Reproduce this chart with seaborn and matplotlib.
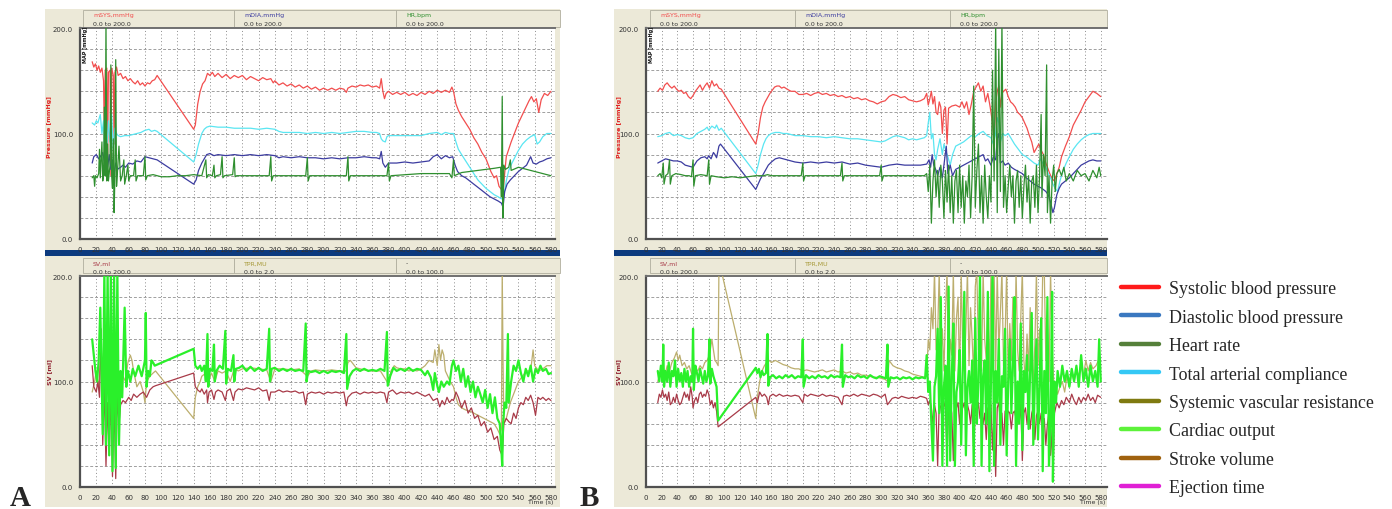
import matplotlib
matplotlib.use("Agg")
import matplotlib.pyplot as plt
import seaborn as sns
import pandas as pd
from matplotlib.patches import Rectangle
from matplotlib.lines import Line2D
from matplotlib.ticker import MultipleLocator

# ---------------- DATA (time s, value) ----------------
A_SYS = [(15,168),(17,163),(19,166),(21,160),(23,164),(25,158),(27,162),(29,150),(30,95),(31,160),(33,162),(34,70),(35,158),(37,160),(38,60),(39,162),(41,155),(42,90),(43,158),(45,163),(47,155),(50,157),(53,152),(56,154),(59,150),(62,152),(65,149),(68,147),(71,150),(74,146),(77,148),(80,145),(83,148),(86,147),(89,150),(92,151),(95,155),
         (140,104),(142,108),(145,128),(148,140),(151,147),(154,150),(157,157),(160,155),(163,158),(166,154),(170,157),(175,153),(180,156),(185,152),(190,155),(195,153),(200,155),(205,151),(210,154),(215,152),(220,150),(225,153),(230,151),(235,152),(238,148),(240,150),(245,146),(250,148),(255,145),(260,147),(265,144),(270,146),(275,143),(280,145),(285,142),(290,144),(295,141),(300,143),(305,141),(310,143),(315,141),(320,143),(325,142),(328,139),(330,143),(335,145),(340,144),(345,146),(350,145),(355,146),(360,144),(365,145),(369,143),(371,152),(373,140),(375,133),(377,138),(380,140),(385,137),(390,139),(395,137),(400,139),(405,136),(410,138),(415,136),(420,139),(425,137),(430,140),(435,138),(440,141),(445,139),(450,141),(455,139),(458,144),(460,140),(463,128),(466,122),(470,116),(475,110),(480,104),(485,96),(490,90),(495,82),(500,76),(503,70),(506,64),(510,58),(513,60),(516,50),(519,47),(521,44),(523,62),(525,78),(528,85),(531,92),(535,100),(540,110),(545,118),(550,126),(553,131),(556,135),(559,130),(562,133),(565,120),(568,132),(572,138),(576,136),(580,140)]
A_DIA = [(15,72),(17,78),(20,80),(23,76),(26,79),(28,82),(30,74),(32,85),(34,68),(36,80),(38,66),(40,75),(42,62),(44,72),(46,66),(50,68),(53,70),(56,68),(60,72),(65,71),(70,74),(75,73),(80,78),(85,77),(90,76),(95,75),
         (140,52),(143,56),(146,65),(150,72),(153,76),(156,80),(160,81),(165,79),(170,80),(180,79),(190,80),(200,79),(210,80),(220,79),(230,80),(240,79),(245,77),(250,78),(260,77),(270,78),(280,77),(290,77),(300,76),(310,77),(320,76),(330,77),(340,77),(350,78),(360,77),(365,77),(369,76),(371,83),(373,72),(376,68),(380,72),(390,72),(400,73),(410,72),(420,73),(430,74),(435,78),(440,80),(445,76),(450,79),(455,77),(459,78),(462,70),(465,64),(470,60),(475,58),(480,55),(485,52),(490,49),(495,46),(500,43),(505,40),(510,38),(515,36),(519,34),(521,30),(523,45),(526,52),(530,56),(535,60),(540,64),(545,67),(550,70),(555,78),(558,72),(562,71),(566,73),(570,74),(575,76),(580,77)]
A_HR = [(15,58),(17,60),(18,50),(19,60),(21,58),(23,62),(24,85),(25,58),(27,92),(28,55),(29,60),(30,125),(31,60),(32,205),(33,55),(34,90),(35,55),(37,70),(38,165),(39,60),(40,48),(41,95),(42,25),(43,60),(44,170),(45,50),(46,62),(48,88),(50,55),(52,60),(54,75),(55,52),(57,60),(59,70),(60,55),(62,60),(66,60),(68,75),(69,55),(71,60),(78,60),(80,78),(81,56),(83,60),(90,61),(100,59),(110,59),(120,60),(130,60),(140,61),(150,60),(155,75),(156,58),(158,61),(163,60),(165,70),(166,58),(168,60),(173,61),(175,78),(176,58),(178,60),(188,61),(190,77),(191,59),(193,60),(233,60),(235,78),(236,55),(238,60),(278,60),(280,77),(281,55),(283,60),(328,60),(330,78),(331,55),(333,60),(378,60),(380,72),(381,55),(383,60),(420,62),(440,62),(455,62),(458,58),(460,75),(461,60),(470,63),(480,64),(490,65),(500,66),(510,67),(518,68),(519,40),(520,135),(521,20),(522,70),(524,66),(528,68),(530,75),(531,65),(540,68),(550,66),(560,64),(570,62),(580,60)]
A_TAC = [(15,110),(18,108),(20,112),(22,110),(25,118),(27,100),(29,112),(30,88),(31,120),(33,85),(35,112),(37,92),(39,118),(41,85),(43,105),(45,100),(47,98),(50,97),(55,98),(60,98),(65,99),(70,100),(75,101),(80,103),(85,104),(88,102),(92,103),(95,102),
         (140,73),(143,80),(146,90),(150,100),(153,104),(156,106),(160,107),(170,106),(180,106),(190,105),(200,105),(210,105),(220,104),(230,105),(240,104),(245,102),(250,101),(260,101),(270,101),(280,100),(290,101),(300,100),(310,101),(320,100),(330,101),(340,102),(350,102),(360,101),(365,101),(369,100),(371,95),(373,93),(376,92),(378,97),(380,98),(390,98),(400,98),(410,98),(420,98),(430,100),(440,101),(445,99),(450,101),(455,100),(460,100),(463,92),(466,85),(470,80),(475,74),(480,68),(485,62),(490,56),(495,52),(500,48),(505,45),(510,42),(515,40),(519,38),(522,40),(525,55),(528,65),(532,72),(536,78),(540,84),(545,90),(550,94),(555,97),(560,99),(563,90),(566,92),(570,97),(575,100),(580,100)]

A_CO = [(15,140),(17,125),(19,110),(21,100),(23,120),(25,170),(27,90),(28,50),(30,205),(32,40),(34,205),(36,30),(38,205),(40,15),(42,205),(44,18),(46,205),(48,40),(50,110),(52,85),(55,170),(57,95),(59,110),(62,100),(65,112),(68,105),(72,115),(76,105),(80,120),(81,165),(82,95),(84,110),(86,105),(88,120),(90,118),(92,115),
        (140,131),(142,115),(145,112),(148,115),(150,110),(153,115),(155,100),(157,145),(158,95),(160,112),(163,110),(165,135),(166,100),(168,110),(172,115),(176,112),(179,148),(180,98),(182,112),(186,110),(189,125),(190,100),(192,112),(196,113),(200,115),(205,110),(210,114),(215,110),(220,113),(225,110),(230,112),(233,150),(234,100),(236,112),(240,113),(245,110),(250,112),(255,110),(260,112),(265,110),(270,111),(275,110),(278,155),(279,100),(281,110),(285,109),(290,110),(295,108),(300,110),(305,108),(310,110),(315,109),(320,110),(325,108),(328,145),(329,93),(332,105),(336,110),(340,112),(345,110),(350,112),(355,110),(360,111),(365,110),(370,112),(375,110),(378,147),(379,96),(382,105),(386,113),(390,110),(395,112),(400,110),(405,113),(410,110),(415,112),(420,111),(425,106),(428,110),(432,104),(435,92),(437,108),(440,96),(442,90),(445,100),(448,95),(452,100),(455,97),(458,115),(460,120),(463,110),(466,115),(469,100),(472,112),(475,95),(478,105),(481,90),(484,100),(487,85),(490,95),(493,88),(496,80),(499,92),(502,75),(505,88),(508,70),(511,85),(514,65),(517,60),(519,35),(520,20),(521,60),(523,80),(525,75),(527,145),(528,80),(531,100),(534,115),(537,110),(540,120),(543,108),(546,100),(549,112),(552,105),(555,115),(558,100),(561,112),(564,108),(567,115),(570,110),(574,112),(577,107),(580,108)]
A_SV = [(15,115),(17,95),(20,90),(22,100),(24,85),(26,150),(28,40),(30,95),(32,20),(34,80),(36,30),(38,90),(40,10),(42,80),(44,8),(46,85),(48,60),(50,78),(53,82),(56,80),(60,85),(63,82),(66,88),(70,85),(74,88),(78,90),(82,85),(86,92),(90,95),(93,96),
        (140,108),(142,95),(145,92),(148,90),(150,93),(153,88),(156,92),(157,80),(159,90),(162,92),(165,83),(167,90),(170,92),(175,90),(179,82),(181,91),(185,93),(189,82),(191,90),(195,93),(200,92),(205,94),(210,93),(215,92),(220,94),(225,91),(230,92),(233,82),(235,90),(240,90),(245,92),(250,90),(255,91),(260,90),(265,91),(270,89),(275,90),(278,78),(280,88),(285,90),(290,89),(295,90),(300,88),(305,90),(310,89),(315,90),(320,89),(325,90),(328,77),(330,85),(335,89),(340,90),(345,88),(350,90),(355,89),(360,90),(365,89),(370,90),(375,89),(378,80),(380,90),(385,92),(390,88),(395,90),(400,89),(405,90),(410,88),(415,90),(420,88),(425,86),(430,88),(435,82),(440,84),(443,76),(446,82),(449,78),(452,85),(455,80),(458,83),(460,82),(463,90),(466,85),(470,75),(474,82),(478,70),(482,75),(486,65),(490,68),(494,58),(498,62),(502,52),(506,56),(510,45),(514,48),(517,35),(520,30),(522,60),(525,65),(528,62),(531,60),(534,70),(537,65),(540,75),(543,80),(546,78),(549,85),(552,82),(555,87),(558,80),(561,68),(564,85),(567,83),(570,85),(574,82),(577,84),(580,82)]
A_TPR = [(15,90),(18,100),(20,110),(23,95),(26,130),(28,80),(30,105),(33,90),(36,120),(38,85),(40,105),(43,80),(46,100),(50,95),(53,105),(56,100),(59,118),(62,125),(64,120),(66,110),(70,95),(74,100),(78,90),(80,80),(82,100),(86,105),(90,108),(93,110),
         (140,65),(142,85),(145,95),(148,100),(150,105),(155,108),(158,100),(162,108),(166,100),(170,110),(175,108),(180,110),(185,100),(190,112),(195,110),(200,112),(210,113),(220,112),(230,111),(235,100),(240,112),(250,112),(260,111),(270,112),(280,105),(285,110),(290,111),(300,110),(310,111),(320,110),(328,110),(330,118),(333,120),(337,116),(340,113),(345,112),(350,111),(360,110),(370,110),(378,100),(380,97),(383,110),(387,115),(390,113),(395,112),(400,112),(405,110),(410,111),(415,110),(420,112),(425,115),(430,120),(435,118),(437,130),(440,115),(442,135),(444,120),(446,130),(448,125),(450,110),(453,105),(456,100),(460,95),(463,85),(466,78),(470,75),(475,73),(480,72),(485,70),(490,68),(495,66),(500,64),(505,62),(510,60),(514,55),(517,50),(519,55),(520,205),(521,120),(522,60),(525,65),(530,80),(535,90),(540,100),(545,105),(550,110),(555,110),(558,130),(560,115),(565,110),(570,112),(575,115),(580,115)]

B_SYS = [(15,140),(18,143),(21,141),(24,146),(27,148),(30,145),(33,143),(36,145),(39,142),(42,140),(45,141),(48,138),(51,139),(54,135),(57,133),(60,136),(63,140),(66,143),(69,146),(72,141),(75,145),(78,148),(81,143),(84,150),(87,145),(90,147),(93,143),(96,142),
         (140,90),(143,100),(146,115),(149,125),(152,130),(155,134),(158,138),(161,141),(164,144),(167,145),(170,145),(173,143),(176,144),(180,142),(185,140),(190,140),(195,137),(200,137),(205,138),(210,136),(215,138),(220,139),(225,137),(230,138),(235,136),(240,137),(245,135),(250,136),(255,134),(260,135),(265,133),(270,134),(275,132),(280,133),(285,131),(290,130),(295,128),(300,130),(305,131),(310,135),(315,137),(320,136),(325,134),(330,135),(335,132),(340,131),(345,130),(350,131),(355,133),(358,138),(360,127),(362,133),(364,140),(366,128),(368,135),(370,120),(372,118),(374,130),(376,125),(378,100),(380,122),(382,125),(384,90),(386,124),(390,126),(395,127),(400,125),(403,130),(406,124),(409,130),(412,118),(415,128),(418,140),(421,144),(424,148),(427,140),(430,145),(433,130),(436,138),(439,125),(442,110),(444,90),(446,130),(448,140),(450,145),(452,125),(454,138),(456,140),(459,142),(462,135),(465,130),(468,128),(471,125),(474,120),(477,118),(480,115),(483,110),(486,105),(489,98),(492,92),(495,82),(498,86),(501,90),(504,84),(507,80),(510,72),(512,68),(515,62),(518,57),(521,55),(524,62),(527,68),(530,78),(535,88),(540,97),(545,108),(550,115),(555,122),(560,130),(565,135),(570,140),(575,138),(580,135)]
B_DIA = [(15,72),(20,74),(25,76),(30,75),(35,74),(40,74),(45,73),(50,70),(55,69),(60,68),(65,74),(70,77),(75,78),(78,76),(80,79),(83,76),(86,82),(88,80),(90,77),(93,88),(95,90),
         (140,47),(143,52),(146,57),(150,62),(153,66),(156,70),(160,73),(165,76),(170,77),(175,76),(180,75),(185,74),(190,73),(200,72),(210,73),(220,72),(230,73),(240,72),(250,73),(260,71),(270,72),(280,70),(290,69),(300,68),(310,70),(320,71),(330,70),(340,70),(350,70),(358,71),(361,75),(363,68),(365,80),(367,70),(370,65),(372,60),(375,68),(378,58),(380,70),(383,88),(385,62),(388,70),(391,60),(395,66),(400,68),(405,70),(410,72),(415,74),(420,76),(425,78),(430,80),(433,74),(436,76),(440,70),(443,78),(446,75),(448,95),(450,100),(452,72),(455,74),(458,70),(462,72),(466,68),(470,66),(475,64),(480,62),(485,58),(490,55),(495,52),(500,50),(505,48),(510,45),(513,42),(516,35),(519,25),(521,30),(524,42),(527,48),(530,52),(535,55),(540,58),(545,62),(550,66),(555,70),(560,72),(565,74),(570,75),(575,74),(580,74)]
B_HR = [(15,60),(18,62),(20,58),(22,72),(23,52),(25,60),(28,62),(30,75),(31,52),(33,60),(38,62),(45,61),(50,60),(55,60),(58,59),(60,75),(61,50),(63,60),(70,61),(78,60),(80,75),(81,52),(83,60),(90,59),(100,58),(110,59),(120,58),(130,59),(140,60),(150,60),(155,61),(160,60),(170,60),(180,60),(198,60),(200,72),(201,55),(203,60),(220,60),(248,60),(250,72),(251,55),(253,60),(270,60),(290,60),(298,60),(300,70),(301,55),(303,60),(320,60),(340,60),(355,60),(358,62),(360,45),(362,70),(364,15),(366,55),(368,75),(370,40),(372,65),(374,30),(376,70),(378,55),(380,20),(382,65),(384,35),(386,70),(388,25),(390,60),(392,15),(394,55),(396,65),(398,25),(400,70),(402,30),(404,60),(406,15),(408,55),(410,40),(412,70),(414,20),(416,60),(418,145),(420,30),(422,65),(424,90),(426,25),(428,60),(430,15),(432,70),(434,40),(436,20),(438,60),(440,35),(442,160),(444,55),(446,205),(448,25),(450,180),(452,45),(454,205),(456,30),(458,60),(460,25),(462,50),(464,70),(466,40),(468,60),(470,15),(472,55),(474,65),(476,30),(478,60),(480,20),(482,50),(484,70),(486,35),(488,60),(490,15),(492,55),(494,60),(496,30),(498,70),(500,25),(502,60),(504,118),(505,40),(507,80),(509,60),(511,165),(512,25),(514,60),(516,15),(518,55),(520,70),(522,45),(524,62),(527,66),(530,60),(533,68),(536,55),(540,62),(545,55),(550,65),(555,60),(560,62),(565,55),(570,65),(575,58),(578,68),(580,60)]
B_TAC = [(15,97),(20,98),(25,100),(30,101),(35,98),(40,99),(45,98),(50,96),(55,95),(60,96),(65,100),(70,102),(75,104),(78,106),(80,103),(84,107),(88,105),(90,108),(93,103),(96,105),
         (140,62),(143,70),(146,80),(150,90),(153,95),(156,98),(160,100),(165,101),(170,101),(175,100),(180,100),(185,99),(190,98),(200,98),(210,97),(220,97),(230,96),(240,97),(250,96),(260,95),(270,95),(280,94),(290,93),(300,92),(305,93),(310,95),(315,97),(320,98),(325,97),(330,96),(335,94),(340,95),(345,94),(350,95),(355,96),(358,98),(360,110),(362,120),(364,95),(366,100),(368,80),(370,75),(372,85),(375,95),(378,80),(380,90),(383,82),(385,78),(388,70),(391,80),(395,88),(400,90),(405,92),(410,95),(415,98),(420,97),(425,100),(430,102),(435,98),(440,96),(443,90),(446,100),(448,115),(450,110),(452,92),(455,100),(458,98),(462,100),(466,95),(470,90),(475,85),(480,80),(485,78),(490,75),(495,72),(500,70),(503,76),(506,72),(510,68),(513,62),(516,58),(519,52),(522,48),(525,45),(528,55),(532,65),(536,72),(540,78),(545,85),(550,90),(555,94),(560,97),(565,99),(570,100),(575,100),(580,100)]

B_CO = [(15,110),(17,100),(19,115),(21,100),(22,135),(23,95),(25,110),(27,100),(29,118),(31,95),(33,110),(35,105),(37,120),(39,95),(41,112),(43,100),(45,108),(47,95),(49,112),(51,100),(53,110),(55,95),(57,105),(59,100),(60,150),(61,92),(63,115),(65,108),(67,100),(69,112),(71,105),(73,98),(75,110),(77,100),(79,105),(81,140),(82,98),(84,112),(86,105),(88,100),(90,95),(92,63),
        (140,113),(142,108),(144,112),(146,104),(148,110),(150,106),(153,108),(155,145),(156,96),(158,104),(162,106),(166,103),(170,105),(174,103),(178,106),(182,104),(186,106),(190,103),(194,105),(198,104),(200,140),(201,95),(204,106),(208,103),(212,105),(216,103),(220,106),(224,104),(228,105),(232,103),(236,106),(240,104),(244,105),(248,104),(250,135),(251,95),(254,106),(258,104),(262,105),(266,103),(270,106),(274,104),(278,105),(282,103),(286,106),(290,104),(294,103),(298,105),(302,104),(306,103),(308,135),(309,95),(312,104),(316,103),(320,104),(324,102),(328,104),(332,103),(336,104),(340,102),(344,104),(348,103),(352,104),(356,103),(358,125),(360,90),(362,100),(364,60),(366,25),(368,95),(370,105),(372,150),(374,70),(376,180),(378,20),(380,95),(382,115),(384,20),(386,190),(388,25),(390,105),(392,155),(394,20),(396,90),(398,100),(400,130),(402,40),(404,110),(406,185),(408,30),(410,95),(412,110),(414,80),(416,120),(418,20),(420,160),(422,60),(424,100),(426,205),(428,20),(430,105),(432,120),(434,60),(436,185),(438,15),(440,100),(442,205),(444,20),(446,110),(448,80),(450,140),(452,40),(454,105),(456,95),(458,150),(460,30),(462,100),(464,140),(466,70),(468,115),(470,180),(472,20),(474,100),(476,60),(478,155),(480,35),(482,110),(484,90),(486,125),(488,55),(490,110),(492,165),(494,40),(496,100),(498,140),(500,45),(502,95),(504,160),(506,15),(508,110),(510,70),(512,180),(514,20),(516,60),(518,185),(519,5),(521,100),(523,80),(525,110),(528,95),(531,115),(534,100),(537,110),(540,95),(543,112),(546,100),(549,115),(552,95),(555,125),(558,100),(561,112),(564,95),(567,115),(570,100),(573,110),(576,95),(578,140),(580,100)]
B_SV = [(15,80),(17,88),(19,85),(21,92),(23,85),(25,88),(27,82),(29,90),(31,78),(33,80),(35,85),(37,80),(39,88),(41,82),(43,78),(45,80),(47,85),(49,90),(51,85),(53,88),(55,82),(57,95),(59,85),(60,75),(62,82),(64,85),(66,80),(68,88),(70,90),(72,85),(74,88),(76,86),(78,92),(80,88),(82,78),(84,82),(86,75),(88,80),(90,72),(92,57),
        (140,85),(142,80),(145,90),(148,86),(151,88),(154,85),(156,78),(158,86),(162,88),(166,86),(170,88),(175,86),(180,87),(185,86),(190,87),(195,86),(200,80),(202,88),(206,86),(210,88),(215,87),(220,86),(225,88),(230,86),(235,87),(240,86),(245,85),(250,78),(252,86),(256,87),(260,86),(265,88),(270,86),(275,88),(280,87),(285,86),(290,88),(295,87),(300,85),(305,88),(308,78),(310,80),(314,84),(318,85),(322,84),(326,86),(330,85),(335,84),(340,85),(345,84),(350,86),(355,85),(358,84),(360,78),(362,82),(364,75),(366,60),(368,78),(370,70),(372,20),(374,80),(376,75),(378,65),(380,80),(382,75),(384,30),(386,78),(388,80),(390,70),(392,25),(394,78),(396,75),(398,80),(400,60),(402,78),(404,75),(406,80),(408,70),(410,78),(412,72),(414,60),(416,78),(418,35),(420,75),(422,70),(424,80),(426,65),(428,75),(430,60),(432,70),(434,45),(436,75),(438,65),(440,78),(442,35),(444,70),(446,10),(448,75),(450,80),(452,62),(454,70),(456,40),(458,72),(460,65),(462,72),(464,70),(466,55),(468,70),(470,72),(472,65),(474,75),(476,60),(478,80),(480,25),(482,70),(484,75),(486,60),(488,78),(490,55),(492,70),(494,75),(496,45),(498,68),(500,72),(502,60),(504,70),(506,50),(508,65),(510,40),(512,60),(514,70),(516,30),(518,55),(519,10),(521,70),(524,80),(527,75),(530,82),(533,78),(536,85),(540,80),(543,88),(546,82),(549,78),(552,85),(555,80),(558,85),(561,82),(564,88),(567,82),(570,85),(573,80),(576,87),(580,85)]
B_TPR = [(15,100),(18,108),(21,112),(24,105),(27,115),(30,110),(33,118),(36,122),(39,128),(41,120),(43,125),(46,115),(49,118),(52,112),(55,115),(58,108),(60,105),(63,112),(66,110),(69,115),(72,112),(75,118),(78,120),(81,125),(84,140),(86,130),(88,120),(90,118),(92,115),(93,205),(96,205),
         (140,65),(142,85),(145,100),(148,110),(151,115),(154,118),(157,120),(160,118),(165,120),(170,118),(175,116),(180,115),(185,113),(190,112),(195,112),(200,110),(205,111),(210,110),(215,109),(220,110),(225,111),(230,109),(235,110),(240,111),(245,109),(250,110),(255,108),(260,109),(265,107),(270,108),(275,106),(280,106),(285,105),(290,104),(295,104),(300,103),(305,102),(308,100),(310,120),(312,118),(315,115),(320,113),(325,112),(330,110),(335,109),(340,107),(345,106),(350,105),(355,104),(358,105),(360,140),(362,130),(364,170),(366,150),(368,205),(370,130),(372,145),(374,205),(376,120),(378,150),(380,110),(382,165),(384,205),(386,100),(388,140),(390,125),(392,205),(394,110),(396,160),(398,180),(400,100),(402,205),(404,130),(406,110),(408,150),(410,205),(412,115),(414,170),(416,140),(418,105),(420,190),(422,205),(424,130),(426,160),(428,110),(430,205),(432,140),(434,120),(436,175),(438,100),(440,205),(442,150),(444,205),(446,110),(448,205),(450,130),(452,165),(454,205),(456,115),(458,140),(460,205),(462,100),(464,155),(466,120),(468,180),(470,105),(472,205),(474,130),(476,110),(478,160),(480,205),(482,120),(484,100),(486,145),(488,110),(490,170),(492,120),(494,100),(496,135),(498,205),(500,115),(502,150),(504,110),(506,205),(508,205),(510,120),(512,140),(514,100),(516,205),(518,130),(520,100),(522,95),(525,88),(528,95),(531,100),(534,90),(537,105),(540,95),(543,110),(546,100),(549,112),(552,105),(555,115),(558,105),(561,120),(564,110),(567,118),(570,112),(574,115),(577,120),(580,115)]

X_TICKS = list(range(0, 581, 20))
Y_TICK_LABELS = ["0.0", "100.0", "200.0"]
TOP_HEADERS = [("mSYS,mmHg", "0.0 to 200.0"), ("mDIA,mmHg", "0.0 to 200.0"), ("HR,bpm", "0.0 to 200.0")]
BOT_HEADERS = [("SV,ml", "0.0 to 200.0"), ("TPR,MU", "0.0 to 2.0"), ("-", "0.0 to 100.0")]
LEGEND_LABELS = ["Systolic blood pressure", "Diastolic blood pressure", "Heart rate",
                 "Total arterial compliance", "Systemic vascular resistance",
                 "Cardiac output", "Stroke volume", "Ejection time"]
LEGEND_COLORS = ["#ff1a1a", "#3a78c0", "#55803a", "#35c8f5", "#7f7a10", "#5df23a", "#a0620f", "#e020d5"]

# ---------------- STYLE ----------------
sns.set_style("white")
plt.rcParams["font.family"] = ["DejaVu Sans"]

C_SYS, C_DIA, C_HR, C_TAC = "#f24e4e", "#3c3ca0", "#2f8f2f", "#5ae6f2"
C_CO, C_SV, C_TPR = "#2af02a", "#a83a48", "#bcae6e"
BEIGE = "#ece9d8"
W, H = 1392, 510

fig = plt.figure(figsize=(W / 100, H / 100), dpi=100)


def fx(x):
    return x / W


def fy(y):
    return 1 - y / H


def rect(x0, y0, x1, y1, **kw):
    fig.patches.append(Rectangle((fx(x0), fy(y1)), fx(x1) - fx(x0), (y1 - y0) / H,
                                 transform=fig.transFigure, **kw))


def make_axes(x0, x1, y0, y1, xmax):
    ax = fig.add_axes([fx(x0), fy(y1), (x1 - x0) / W, (y1 - y0) / H])
    ax.set_zorder(5)
    ax.set_facecolor("white")
    ax.set_xlim(0, xmax)
    ax.set_ylim(0, 200)
    ax.set_xticks(X_TICKS)
    ax.set_xticklabels([str(t) for t in X_TICKS])
    ax.set_yticks([0, 100, 200])
    ax.set_yticklabels(Y_TICK_LABELS)
    ax.yaxis.set_minor_locator(MultipleLocator(20))
    ax.xaxis.set_minor_locator(MultipleLocator(20))
    ax.grid(False)
    for v in range(20, 200, 20):
        ax.axhline(v, color="#a0a0a0", lw=0.7, ls=(0, (3, 2)), zorder=0)
    for t in X_TICKS[1:]:
        ax.axvline(t, color="#8c8c8c", lw=0.7, ls=(0, (1, 2.5)), zorder=0)
    ax.tick_params(axis="both", which="major", labelsize=5, length=3, width=0.6,
                   color="#666666", pad=2, labelcolor="#333333")
    ax.tick_params(axis="y", which="minor", length=2.5, width=0.6, color="#666666")
    ax.tick_params(axis="x", which="minor", length=0)
    for s in ["left", "bottom"]:
        ax.spines[s].set_color("#505050")
        ax.spines[s].set_linewidth(1.6)
    ax.spines["top"].set_color("#707070")
    ax.spines["top"].set_linewidth(1.4)
    ax.spines["right"].set_visible(False)
    ax.set_xlabel("")
    ax.set_ylabel("")
    return ax


def draw(ax, data, color, lw):
    df = pd.DataFrame(data, columns=["t", "v"])
    sns.lineplot(data=df, x="t", y="v", ax=ax, color=color, lw=lw,
                 estimator=None, sort=False, zorder=3)
    ax.set_xlabel("")
    ax.set_ylabel("")


def headers(x_boxes, y0, y1, items, colors):
    for (bx0, bx1), (name, rng), col in zip(x_boxes, items, colors):
        rect(bx0, y0, bx1, y1, facecolor=BEIGE, edgecolor="#b0ae9e", lw=0.6, zorder=-1)
        fig.text(fx(bx0 + 10), fy(y0 + 5), name, fontsize=4.5, color=col, va="center", ha="left")
        fig.text(fx(bx0 + 10), fy(y0 + 13), rng, fontsize=4.5, color="#333333", va="center", ha="left")


panels = [
    dict(fx0=45, fx1=560, ax0=80, ax1=555, xmax=585,
         top=[A_SYS, A_TAC, A_DIA, A_HR], bot=[A_TPR, A_SV, A_CO],
         boxes=[(83, 234), (234, 396), (396, 560)], letter="A", lx=10),
    dict(fx0=614, fx1=1107, ax0=646, ax1=1107, xmax=588,
         top=[B_SYS, B_TAC, B_DIA, B_HR], bot=[B_TPR, B_SV, B_CO],
         boxes=[(650, 795), (795, 950), (950, 1107)], letter="B", lx=580),
]

for p in panels:
    rect(p["fx0"], 10, p["fx1"], 508, facecolor=BEIGE, edgecolor="none", zorder=-3)
    rect(p["fx0"], 251, p["fx1"], 257, facecolor="#0c3a7e", edgecolor="none", zorder=-1)
    headers(p["boxes"], 11, 28, TOP_HEADERS, [C_SYS, C_DIA, C_HR])
    headers(p["boxes"], 259, 274, BOT_HEADERS, [C_SV, "#a89a3a", "#333333"])

    at = make_axes(p["ax0"], p["ax1"], 29, 240, p["xmax"])
    ab = make_axes(p["ax0"], p["ax1"], 277, 488, p["xmax"])
    for data, col in zip(p["top"], [C_SYS, C_TAC, C_DIA, C_HR]):
        draw(at, data, col, 0.9)
    for data, col, lw in zip(p["bot"], [C_TPR, C_SV, C_CO], [0.9, 0.9, 1.6]):
        draw(ab, data, col, lw)

    fig.text(fx(p["fx0"] + 5), fy(127), "Pressure [mmHg]", rotation=90, fontsize=4.5,
             color="#e02020", va="center", ha="center", fontweight="bold")
    fig.text(fx(p["fx0"] + 5), fy(372), "SV [ml]", rotation=90, fontsize=4.5,
             color="#902030", va="center", ha="center", fontweight="bold")
    t = fig.text(fx(p["ax0"] + 5), fy(45), "MAP [mmHg]", rotation=90, fontsize=3.5,
                 color="#111111", va="center", ha="center", fontweight="bold")
    t.set_zorder(10)
    fig.text(fx(p["ax1"] - 14), fy(503), "Time (s)",
             fontsize=4.5, color="#333333", va="center", ha="center")
    fig.text(fx(p["lx"]), fy(506), p["letter"], fontsize=21, fontweight="bold",
             family=["Liberation Serif", "DejaVu Serif"], va="baseline", ha="left")

handles = [Line2D([0], [0], color=c, lw=3.2) for c in LEGEND_COLORS]
fig.legend(handles, LEGEND_LABELS, loc="upper left", bbox_to_anchor=(fx(1114), fy(274)),
           frameon=False, prop={"family": ["Liberation Serif", "DejaVu Serif"], "size": 12.9},
           handlelength=2.1, handletextpad=0.55, labelspacing=0.64, borderaxespad=0)

fig.savefig("out.png", dpi=100, facecolor="white")
